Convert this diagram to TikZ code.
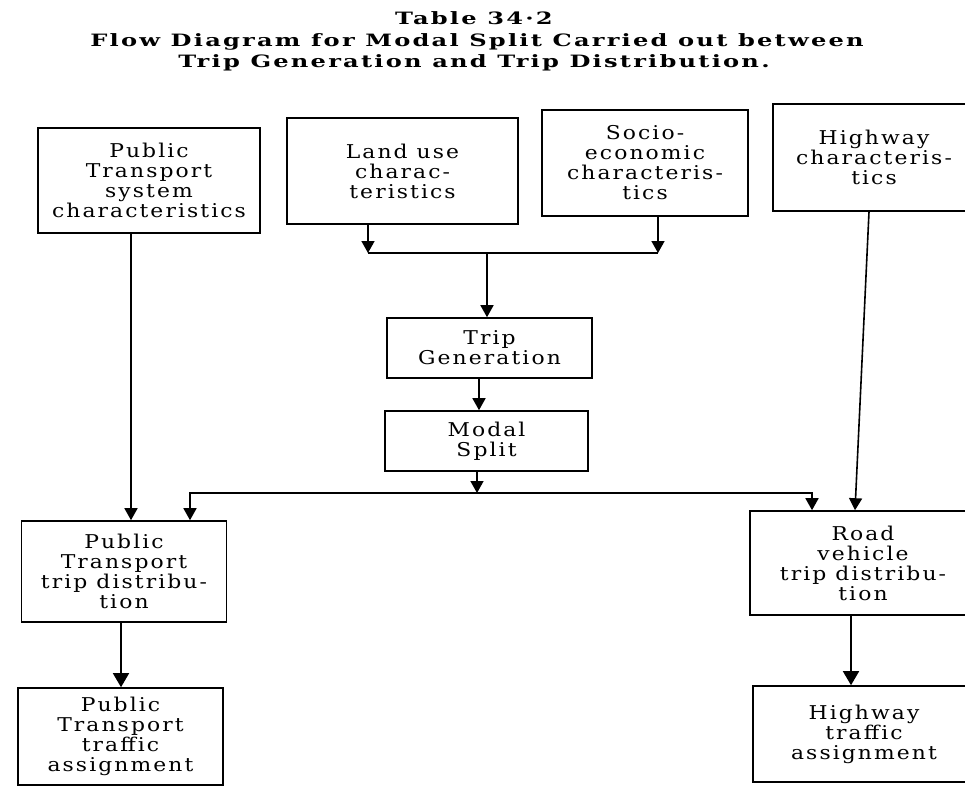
\documentclass[tikz,border=0pt]{standalone}
\usepackage{fontspec}
\setmainfont{DejaVu Serif}
\newfontfamily\boxfont[FakeStretch=1.15,LetterSpace=11]{DejaVu Serif}
\newfontfamily\titlefont[FakeStretch=1.42,LetterSpace=13]{DejaVu Serif}
\usetikzlibrary{arrows.meta}
\begin{document}
\begin{tikzpicture}[x=1pt,y=-1pt,
  box/.style={draw, line width=1.6pt, align=center, inner sep=0pt,
    font=\boxfont\fontsize{19}{20}\selectfont},
  conn/.style={line width=1.6pt},
  arr/.style={conn, -{Triangle[width=13pt,length=12pt]}},
  bigarr/.style={conn, -{Triangle[width=16pt,length=14pt]}},
  ttl/.style={font=\titlefont\bfseries\fontsize{17}{20}\selectfont, inner sep=0pt, anchor=base}]
\useasboundingbox[fill=white] (0,0) rectangle (965,787);
\clip (0,0) rectangle (965,787);
% title
\node[ttl] (t1) at (474,24) {Table 34·2};
\node[ttl] (t2) at (477,46.5) {Flow Diagram for Modal Split Carried out between};
\node[ttl] (t3) at (474,67.5) {Trip Generation and Trip Distribution.};
% boxes
\node[box, minimum width=222pt, minimum height=105pt] (ptsys) at (149,180.5) {Public\\Transport\\system\\characteristics};
\node[box, minimum width=231pt, minimum height=106pt] (land) at (402.5,171) {Land use\\charac-\\teristics};
\node[box, minimum width=206pt, minimum height=106pt] (socio) at (645,163) {Socio-\\economic\\characteris-\\tics};
\node[box, minimum width=202pt, minimum height=107pt] (hwy) at (874,157.5) {Highway\\characteris-\\tics};
\node[box, minimum width=205pt, minimum height=60pt] (tripgen) at (489.5,348) {Trip\\Generation};
\node[box, minimum width=203pt, minimum height=60pt] (modal) at (486.5,441) {Modal\\Split};
\node[box, minimum width=205pt, minimum height=101pt] (ptdist) at (124,571.5) {Public\\Transport\\trip distribu-\\tion};
\node[box, minimum width=205pt, minimum height=97pt] (ptassign) at (120.5,736.5) {Public\\Transport\\traffic\\assignment};
\node[box, minimum width=226pt, minimum height=104pt] (road) at (863,563) {Road\\vehicle\\trip distribu-\\tion};
\node[box, minimum width=222pt, minimum height=96pt] (hwyassign) at (864,734) {Highway\\traffic\\assignment};
% junction points
\coordinate (j1L) at (368,253);
\coordinate (j1R) at (658,253);
\coordinate (j1M) at (487,253);
\coordinate (j2L) at (190,493);
\coordinate (j2R) at (812,493);
\coordinate (j2M) at (477,493);
\coordinate (x479) at (479,0);
\coordinate (x131) at (131,0);
\coordinate (x121) at (121,0);
\coordinate (x851) at (851,0);
% connectors
\draw[arr] (land.south -| j1L) -- (j1L);
\draw[arr] (socio.south -| j1R) -- (j1R);
\draw[conn] (j1L) -- (j1R);
\draw[arr] (j1M) -- (tripgen.north -| j1M);
\draw[arr] (tripgen.south -| x479) -- (modal.north -| x479);
\draw[arr] (modal.south -| j2M) -- (j2M);
\draw[arr] (j2M) -- (j2L) -- (ptdist.north -| j2L);
\draw[arr] (j2M) -- (j2R) -- (road.north -| j2R);
\draw[arr] (ptsys.south -| x131) -- (ptdist.north -| x131);
\draw[arr] ([xshift=-5pt]hwy.south) -- ([xshift=-8pt]road.north);
\draw[bigarr] (ptdist.south -| x121) -- (ptassign.north -| x121);
\draw[bigarr] (road.south -| x851) -- (hwyassign.north -| x851);
\end{tikzpicture}
\end{document}
